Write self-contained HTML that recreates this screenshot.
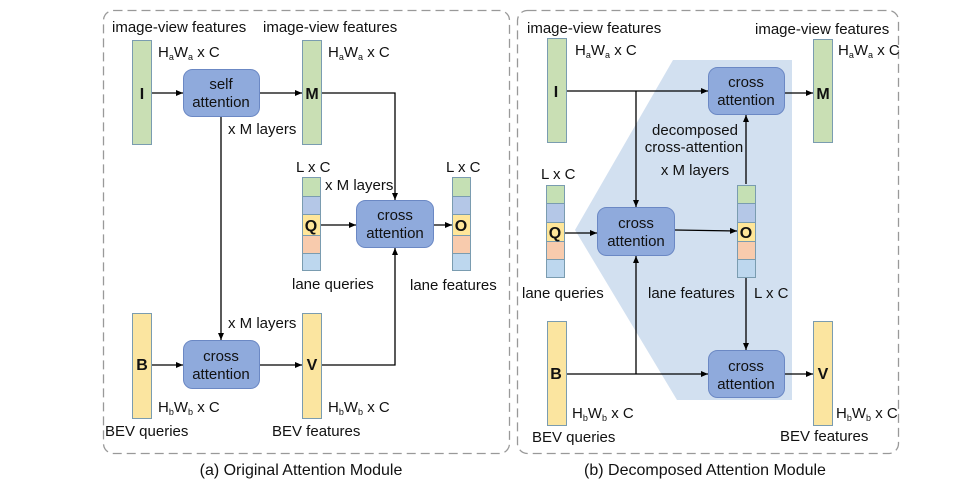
<!DOCTYPE html>
<html><head><meta charset="utf-8"><style>
body{margin:0;background:#fff}
svg text{font-family:"Liberation Sans",sans-serif;fill:#111}
</style></head><body>
<svg width="976" height="496" viewBox="0 0 976 496" xmlns="http://www.w3.org/2000/svg">
<defs>
<marker id="a" markerWidth="8" markerHeight="8" refX="7" refY="4" orient="auto" markerUnits="userSpaceOnUse"><path d="M0,1 L7,4 L0,7 z" fill="#000"/></marker>
</defs>
<rect x="103.5" y="10.5" width="406" height="443" rx="10" fill="none" stroke="#999" stroke-width="1.3" stroke-dasharray="9,5"/>
<rect x="517.5" y="10.5" width="381" height="443" rx="10" fill="none" stroke="#999" stroke-width="1.3" stroke-dasharray="9,5"/>
<polygon points="673,60 792,60 792,400 677,400 575,230" fill="#d2e0f0"/>

<g font-size="15">
<text x="112" y="32">image-view features</text>
<text x="263" y="32">image-view features</text>
<rect x="132.5" y="40.5" width="19" height="104" fill="#c9dfb4" stroke="#7a9cb0"/>
<rect x="302.5" y="40.5" width="19" height="104" fill="#c9dfb4" stroke="#7a9cb0"/>
<text x="158" y="57">H<tspan font-size="9" dy="3">a</tspan><tspan dy="-3">W</tspan><tspan font-size="9" dy="3">a</tspan><tspan dy="-3"> x C</tspan></text>
<text x="328" y="57">H<tspan font-size="9" dy="3">a</tspan><tspan dy="-3">W</tspan><tspan font-size="9" dy="3">a</tspan><tspan dy="-3"> x C</tspan></text>
<text x="142" y="99" font-weight="bold" text-anchor="middle" font-size="16">I</text>
<text x="312" y="99" font-weight="bold" text-anchor="middle" font-size="16">M</text>
<rect x="183.5" y="69.5" width="76" height="47" rx="9" fill="#8faadc" stroke="#6b88c4"/>
<text x="221" y="89" text-anchor="middle">self</text>
<text x="221" y="107" text-anchor="middle">attention</text>
<line x1="152" y1="93" x2="183" y2="93" stroke="#000" stroke-width="1.3" marker-end="url(#a)"/>
<line x1="260" y1="93" x2="302" y2="93" stroke="#000" stroke-width="1.3" marker-end="url(#a)"/>
<text x="228" y="134">x M layers</text>
<line x1="221" y1="117" x2="221" y2="340" stroke="#000" stroke-width="1.3" marker-end="url(#a)"/>
<polyline points="322,93 395,93 395,200" fill="none" stroke="#000" stroke-width="1.3" marker-end="url(#a)"/>

<text x="296" y="172">L x C</text>
<text x="446" y="172">L x C</text>
<text x="325" y="190">x M layers</text>
<g stroke="#7a9cb0">
<rect x="302.5" y="177.5" width="18" height="19" fill="#c5e0b4"/>
<rect x="302.5" y="196.5" width="18" height="18" fill="#b4c7e7"/>
<rect x="302.5" y="214.5" width="18" height="21" fill="#ffe699"/>
<rect x="302.5" y="235.5" width="18" height="18" fill="#f8cbad"/>
<rect x="302.5" y="253.5" width="18" height="17" fill="#bdd7ee"/>
<rect x="452.5" y="177.5" width="18" height="19" fill="#c5e0b4"/>
<rect x="452.5" y="196.5" width="18" height="18" fill="#b4c7e7"/>
<rect x="452.5" y="214.5" width="18" height="21" fill="#ffe699"/>
<rect x="452.5" y="235.5" width="18" height="18" fill="#f8cbad"/>
<rect x="452.5" y="253.5" width="18" height="17" fill="#bdd7ee"/>
</g>
<text x="311" y="231" font-weight="bold" text-anchor="middle" font-size="16">Q</text>
<text x="461" y="231" font-weight="bold" text-anchor="middle" font-size="16">O</text>
<rect x="356.5" y="200.5" width="77" height="47" rx="9" fill="#8faadc" stroke="#6b88c4"/>
<text x="395" y="220" text-anchor="middle">cross</text>
<text x="395" y="238" text-anchor="middle">attention</text>
<line x1="321" y1="225" x2="356" y2="225" stroke="#000" stroke-width="1.3" marker-end="url(#a)"/>
<line x1="434" y1="225" x2="452" y2="225" stroke="#000" stroke-width="1.3" marker-end="url(#a)"/>
<text x="292" y="289">lane queries</text>
<text x="410" y="290">lane features</text>

<text x="228" y="328">x M layers</text>
<rect x="132.5" y="313.5" width="19" height="105" fill="#fbe5a0" stroke="#7a9cb0"/>
<rect x="302.5" y="313.5" width="19" height="105" fill="#fbe5a0" stroke="#7a9cb0"/>
<text x="142" y="370" font-weight="bold" text-anchor="middle" font-size="16">B</text>
<text x="312" y="370" font-weight="bold" text-anchor="middle" font-size="16">V</text>
<rect x="183.5" y="340.5" width="76" height="48" rx="9" fill="#8faadc" stroke="#6b88c4"/>
<text x="221" y="361" text-anchor="middle">cross</text>
<text x="221" y="379" text-anchor="middle">attention</text>
<line x1="152" y1="365" x2="183" y2="365" stroke="#000" stroke-width="1.3" marker-end="url(#a)"/>
<line x1="260" y1="365" x2="302" y2="365" stroke="#000" stroke-width="1.3" marker-end="url(#a)"/>
<polyline points="322,365 395,365 395,248" fill="none" stroke="#000" stroke-width="1.3" marker-end="url(#a)"/>
<text x="158" y="412">H<tspan font-size="9" dy="3">b</tspan><tspan dy="-3">W</tspan><tspan font-size="9" dy="3">b</tspan><tspan dy="-3"> x C</tspan></text>
<text x="328" y="412">H<tspan font-size="9" dy="3">b</tspan><tspan dy="-3">W</tspan><tspan font-size="9" dy="3">b</tspan><tspan dy="-3"> x C</tspan></text>
<text x="105" y="436">BEV queries</text>
<text x="272" y="436">BEV features</text>
<text x="301" y="475" text-anchor="middle" font-size="16">(a) Original Attention Module</text>

<text x="527" y="33">image-view features</text>
<text x="755" y="34">image-view features</text>
<rect x="547.5" y="38.5" width="19" height="104" fill="#c9dfb4" stroke="#7a9cb0"/>
<rect x="813.5" y="39.5" width="19" height="103" fill="#c9dfb4" stroke="#7a9cb0"/>
<text x="575" y="55">H<tspan font-size="9" dy="3">a</tspan><tspan dy="-3">W</tspan><tspan font-size="9" dy="3">a</tspan><tspan dy="-3"> x C</tspan></text>
<text x="838" y="55">H<tspan font-size="9" dy="3">a</tspan><tspan dy="-3">W</tspan><tspan font-size="9" dy="3">a</tspan><tspan dy="-3"> x C</tspan></text>
<text x="556" y="97" font-weight="bold" text-anchor="middle" font-size="16">I</text>
<text x="823" y="99" font-weight="bold" text-anchor="middle" font-size="16">M</text>
<rect x="708.5" y="67.5" width="76" height="47" rx="9" fill="#8faadc" stroke="#6b88c4"/>
<text x="746" y="87" text-anchor="middle">cross</text>
<text x="746" y="105" text-anchor="middle">attention</text>
<line x1="567" y1="91" x2="708" y2="91" stroke="#000" stroke-width="1.3" marker-end="url(#a)"/>
<line x1="785" y1="93" x2="813" y2="93" stroke="#000" stroke-width="1.3" marker-end="url(#a)"/>
<line x1="636" y1="91" x2="636" y2="207" stroke="#000" stroke-width="1.3" marker-end="url(#a)"/>
<text x="695" y="135" text-anchor="middle">decomposed</text>
<text x="694" y="152" text-anchor="middle">cross-attention</text>
<text x="695" y="175" text-anchor="middle">x M layers</text>
<line x1="746" y1="184" x2="746" y2="115" stroke="#000" stroke-width="1.3" marker-end="url(#a)"/>

<text x="541" y="179">L x C</text>
<g stroke="#7a9cb0">
<rect x="546.5" y="185.5" width="18" height="18" fill="#c5e0b4"/>
<rect x="546.5" y="203.5" width="18" height="19" fill="#b4c7e7"/>
<rect x="546.5" y="222.5" width="18" height="19" fill="#ffe699"/>
<rect x="546.5" y="241.5" width="18" height="18" fill="#f8cbad"/>
<rect x="546.5" y="259.5" width="18" height="18" fill="#bdd7ee"/>
<rect x="737.5" y="185.5" width="18" height="18" fill="#c5e0b4"/>
<rect x="737.5" y="203.5" width="18" height="19" fill="#b4c7e7"/>
<rect x="737.5" y="222.5" width="18" height="19" fill="#ffe699"/>
<rect x="737.5" y="241.5" width="18" height="18" fill="#f8cbad"/>
<rect x="737.5" y="259.5" width="18" height="18" fill="#bdd7ee"/>
</g>
<text x="555" y="238" font-weight="bold" text-anchor="middle" font-size="16">Q</text>
<text x="746" y="238" font-weight="bold" text-anchor="middle" font-size="16">O</text>
<rect x="597.5" y="207.5" width="77" height="48" rx="9" fill="#8faadc" stroke="#6b88c4"/>
<text x="636" y="228" text-anchor="middle">cross</text>
<text x="636" y="246" text-anchor="middle">attention</text>
<line x1="565" y1="233" x2="597" y2="233" stroke="#000" stroke-width="1.3" marker-end="url(#a)"/>
<line x1="675" y1="230" x2="737" y2="231" stroke="#000" stroke-width="1.3" marker-end="url(#a)"/>
<text x="522" y="298">lane queries</text>
<text x="648" y="298">lane features</text>
<text x="754" y="298">L x C</text>
<line x1="746" y1="278" x2="746" y2="350" stroke="#000" stroke-width="1.3" marker-end="url(#a)"/>

<rect x="547.5" y="321.5" width="19" height="104" fill="#fbe5a0" stroke="#7a9cb0"/>
<rect x="813.5" y="321.5" width="19" height="104" fill="#fbe5a0" stroke="#7a9cb0"/>
<text x="556" y="379" font-weight="bold" text-anchor="middle" font-size="16">B</text>
<text x="823" y="379" font-weight="bold" text-anchor="middle" font-size="16">V</text>
<rect x="708.5" y="350.5" width="76" height="47" rx="9" fill="#8faadc" stroke="#6b88c4"/>
<text x="746" y="371" text-anchor="middle">cross</text>
<text x="746" y="389" text-anchor="middle">attention</text>
<line x1="567" y1="374" x2="708" y2="374" stroke="#000" stroke-width="1.3" marker-end="url(#a)"/>
<line x1="636" y1="374" x2="636" y2="256" stroke="#000" stroke-width="1.3" marker-end="url(#a)"/>
<line x1="785" y1="374" x2="813" y2="374" stroke="#000" stroke-width="1.3" marker-end="url(#a)"/>
<text x="572" y="418">H<tspan font-size="9" dy="3">b</tspan><tspan dy="-3">W</tspan><tspan font-size="9" dy="3">b</tspan><tspan dy="-3"> x C</tspan></text>
<text x="836" y="418">H<tspan font-size="9" dy="3">b</tspan><tspan dy="-3">W</tspan><tspan font-size="9" dy="3">b</tspan><tspan dy="-3"> x C</tspan></text>
<text x="532" y="442">BEV queries</text>
<text x="780" y="441">BEV features</text>
<text x="705" y="475" text-anchor="middle" font-size="16">(b) Decomposed Attention Module</text>
</g>
</svg>
</body></html>
